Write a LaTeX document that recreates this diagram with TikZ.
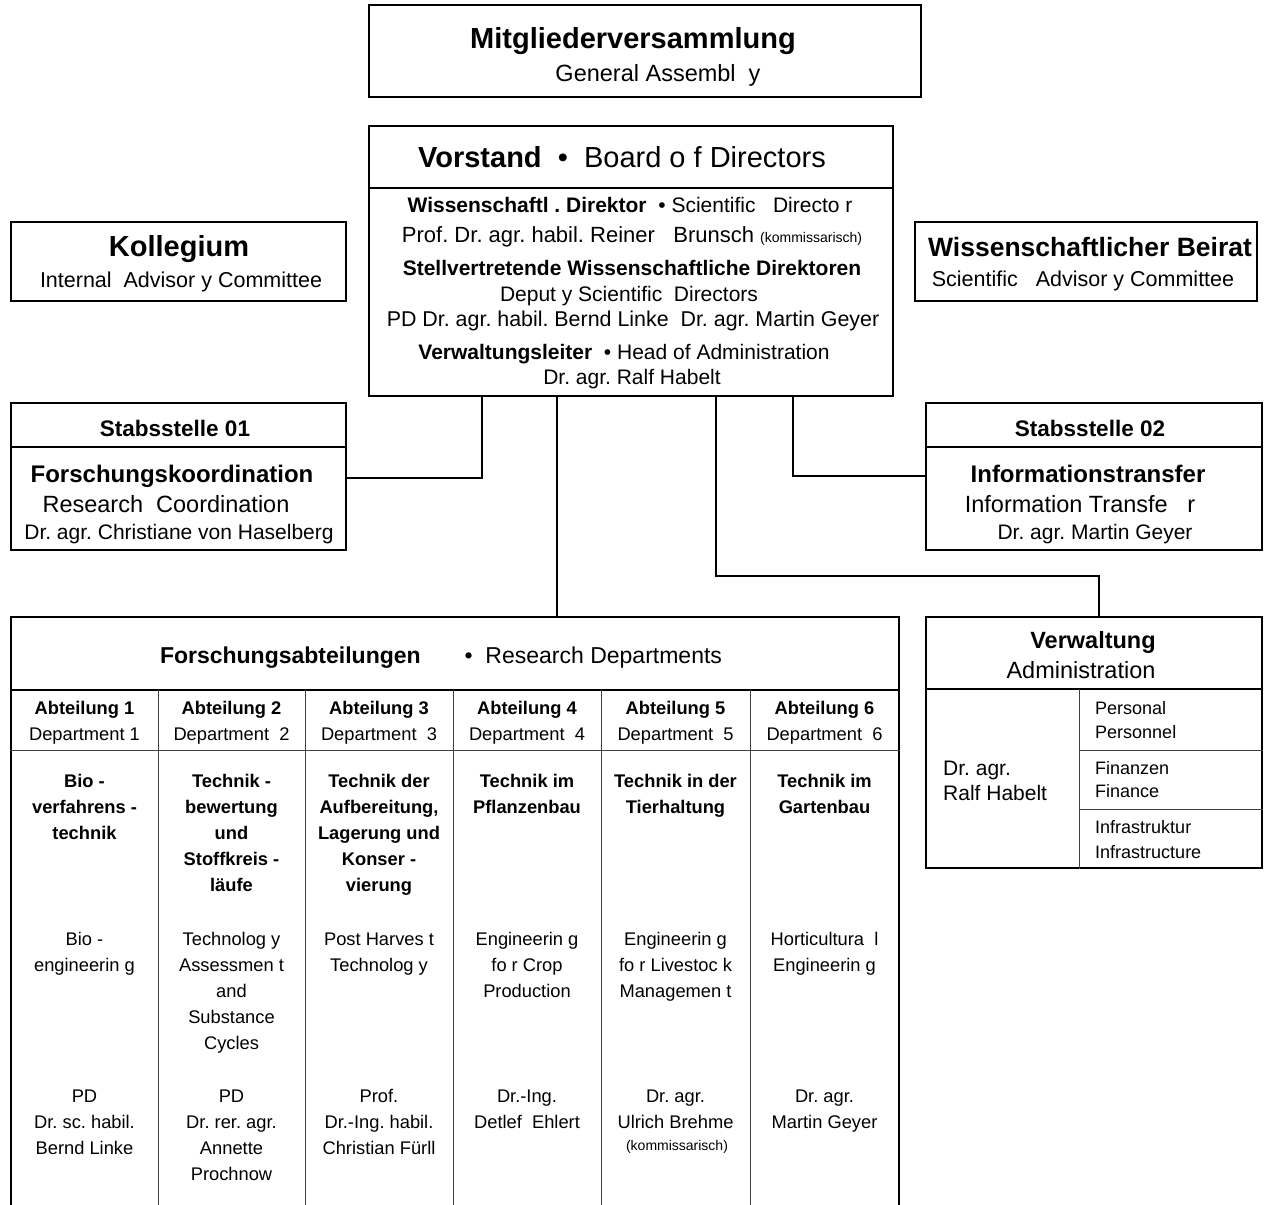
\documentclass[tikz,border=0pt]{standalone}
\usepackage{fontspec}
\setmainfont{Liberation Sans}
\newcommand\fsz[1]{\fontsize{#1}{#1}\selectfont}
\frenchspacing
\begin{document}
\begin{tikzpicture}[x=1pt,y=-1pt,
  box/.style={draw, line width=2pt, inner sep=0pt},
  divline/.style={line width=1.3pt},
  gridline/.style={line width=1pt, draw=black!75},
  conn/.style={line width=2.5pt},
  txt/.style={anchor=base, inner sep=0pt, align=center},
  ltxt/.style={anchor=base west, inner sep=0pt, align=left},
  coltitle/.style={txt, font=\fontsize{18.3}{26}\selectfont\bfseries},
  coltext/.style={txt, font=\fontsize{18.3}{26}\selectfont},
]
\useasboundingbox (0,0) rectangle (1265,1204);

% ---- boxes ----
\node[box, minimum width=552pt, minimum height=92pt] (mv) at (645,51) {};
\node[box, minimum width=524pt, minimum height=270pt] (vs) at (631,261) {};
\node[box, minimum width=335pt, minimum height=79pt] (kol) at (178.5,261.5) {};
\node[box, minimum width=342pt, minimum height=79pt] (wb) at (1086,261.5) {};
\node[box, minimum width=335pt, minimum height=147pt] (st1) at (178.5,476.5) {};
\node[box, minimum width=336pt, minimum height=147pt] (st2) at (1094,476.5) {};
\node[box, minimum width=888pt, minimum height=613pt] (tab) at (455,923.5) {};
\node[box, minimum width=336pt, minimum height=251pt] (vw) at (1094,742.5) {};

% ---- inner dividers ----
\coordinate (vsd) at (0,188);
\draw[divline] (vs.west |- vsd) -- (vs.east |- vsd);
\coordinate (s1d) at (0,447);
\draw[divline] (st1.west |- s1d) -- (st1.east |- s1d);
\draw[divline] (st2.west |- s1d) -- (st2.east |- s1d);
\coordinate (td1) at (0,690);
\coordinate (td2) at (0,750);
\draw[divline] (tab.west |- td1) -- (tab.east |- td1);
\draw[gridline] (tab.west |- td2) -- (tab.east |- td2);
\foreach \cx [count=\k] in {158,305,453,601,750}
  \draw[gridline] (\cx,690) -- (\cx,1230);
\coordinate (vwd) at (0,689);
\draw[divline] (vw.west |- vwd) -- (vw.east |- vwd);
\coordinate (vwv) at (1079,0);
\draw[gridline] (vwv |- vwd) -- (vwv |- vw.south);
\draw[gridline] (1079,750) -- (vw.east |- 0,750);
\draw[gridline] (1079,809) -- (vw.east |- 0,809);

% ---- connectors ----
\coordinate (j1) at (482,478);
\draw[conn] (st1.east |- j1) -- (j1) -- (j1 |- vs.south);
\coordinate (j2) at (793,476);
\draw[conn] (j2 |- vs.south) -- (j2) -- (st2.west |- j2);
\coordinate (j3) at (557,0);
\draw[conn] (j3 |- vs.south) -- (j3 |- tab.north);
\coordinate (j4) at (716,576);
\coordinate (j5) at (1099,576);
\draw[conn] (j4 |- vs.south) -- (j4) -- (j5) -- (j5 |- vw.north);

% ---- texts: top ----
\node[txt, font=\fsz{29}\bfseries] (mvt1) at (633,48.5) {Mitgliederversammlung};
\node[txt, font=\fsz{23.5}] (mvt2) at (658,82) {General Assembl\ \ y};

\node[txt, font=\fsz{29}] (vst) at (622,167.5) {\textbf{Vorstand}\ \ •\ \ Board o f Directors};
\node[txt, font=\fsz{21}] (vs1) at (630,212.5) {\textbf{Wissenschaftl . Direktor}\ \ •\ Scientific\ \ \ Directo r};
\node[txt, font=\fsz{22}] (vs2) at (632,242.5) {Prof. Dr. agr. habil. Reiner\ \ \ Brunsch {\fsz{14}(kommissarisch)}};
\node[txt, font=\fsz{21}\bfseries] (vs3) at (632,275.5) {Stellvertretende Wissenschaftliche Direktoren};
\node[txt, font=\fsz{21}] (vs4) at (629,301.5) {Deput y Scientific\ \ Directors};
\node[txt, font=\fsz{21.4}] (vs5) at (633,326.5) {PD Dr. agr. habil. Bernd Linke\ \ Dr. agr. Martin Geyer};
\node[txt, font=\fsz{21}] (vs6) at (624,359.5) {\textbf{Verwaltungsleiter}\ \ •\ Head of Administration};
\node[txt, font=\fsz{21}] (vs7) at (632,384.5) {Dr. agr. Ralf Habelt};

\node[txt, font=\fsz{29}\bfseries] (kolt1) at (179,256.5) {Kollegium};
\node[txt, font=\fsz{21.5}] (kolt2) at (181,287) {Internal\ \ Advisor y Committee};
\node[txt, font=\fsz{26.5}\bfseries] (wbt1) at (1090,256.5) {Wissenschaftlicher Beirat};
\node[txt, font=\fsz{21.5}] (wbt2) at (1083,286) {Scientific\ \ \ Advisor y\ Committee};

% ---- Stabsstellen ----
\node[txt, font=\fsz{22.5}\bfseries] (st1t1) at (175,436.5) {Stabsstelle 01};
\node[txt, font=\fsz{24}\bfseries] (st1t2) at (172,482.5) {Forschungskoordination};
\node[txt, font=\fsz{23.5}] (st1t3) at (166,512.5) {Research\ \ Coordination};
\node[txt, font=\fsz{21}] (st1t4) at (179,539.5) {Dr. agr. Christiane von Haselberg};

\node[txt, font=\fsz{22.5}\bfseries] (st2t1) at (1090,436.5) {Stabsstelle 02};
\node[txt, font=\fsz{24}\bfseries] (st2t2) at (1088,482.5) {Informationstransfer};
\node[txt, font=\fsz{23.5}] (st2t3) at (1080,512.5) {Information Transfe\ \ \ r};
\node[txt, font=\fsz{21}] (st2t4) at (1095,539.5) {Dr. agr. Martin Geyer};

% ---- research departments ----
\node[txt, font=\fsz{23}] (tabt) at (441,663) {\textbf{Forschungsabteilungen}\hspace{44pt}•\ \ Research Departments};

\node[txt, font=\fsz{18.3}\bfseries] (a1) at (84.5,714.5) {Abteilung 1};
\node[txt, font=\fsz{18.3}\bfseries] (a2) at (231.5,714.5) {Abteilung 2};
\node[txt, font=\fsz{18.3}\bfseries] (a3) at (379,714.5) {Abteilung 3};
\node[txt, font=\fsz{18.3}\bfseries] (a4) at (527,714.5) {Abteilung 4};
\node[txt, font=\fsz{18.3}\bfseries] (a5) at (675.5,714.5) {Abteilung 5};
\node[txt, font=\fsz{18.3}\bfseries] (a6) at (824.5,714.5) {Abteilung 6};
\node[txt, font=\fsz{18.3}] (d1) at (84.5,740.5) {Department 1};
\node[txt, font=\fsz{18.3}] (d2) at (231.5,740.5) {Department\ \ 2};
\node[txt, font=\fsz{18.3}] (d3) at (379,740.5) {Department\ \ 3};
\node[txt, font=\fsz{18.3}] (d4) at (527,740.5) {Department\ \ 4};
\node[txt, font=\fsz{18.3}] (d5) at (675.5,740.5) {Department\ \ 5};
\node[txt, font=\fsz{18.3}] (d6) at (824.5,740.5) {Department\ \ 6};

% multi-line nodes: base anchor = baseline of last line
\node[coltitle] (b1) at (84.5,839.5) {Bio -\\verfahrens -\\technik};
\node[coltitle] (b2) at (231.5,891.5) {Technik -\\bewertung\\und\\Stoffkreis -\\läufe};
\node[coltitle] (b3) at (379,891.5) {Technik der\\Aufbereitung,\\Lagerung und\\Konser -\\vierung};
\node[coltitle] (b4) at (527,813.5) {Technik im\\Pflanzenbau};
\node[coltitle] (b5) at (675.5,813.5) {Technik in der\\Tierhaltung};
\node[coltitle] (b6) at (824.5,813.5) {Technik im\\Gartenbau};

\node[coltext] (e1) at (84.5,971.5) {Bio -\\engineerin g};
\node[coltext] (e2) at (231.5,1049.5) {Technolog y\\Assessmen t\\and\\Substance\\Cycles};
\node[coltext] (e3) at (379,971.5) {Post\ Harves t\\Technolog y};
\node[coltext] (e4) at (527,997.5) {Engineerin g\\fo r\ Crop\\Production};
\node[coltext] (e5) at (675.5,997.5) {Engineerin g\\fo r\ Livestoc k\\Managemen t};
\node[coltext] (e6) at (824.5,971.5) {Horticultura\ \ l\\Engineerin g};

\node[coltext] (n1) at (84.5,1154.5) {PD\\Dr. sc. habil.\\Bernd Linke};
\node[coltext] (n2) at (231.5,1180.5) {PD\\Dr. rer. agr.\\Annette\\Prochnow};
\node[coltext] (n3) at (379,1154.5) {Prof.\\Dr.-Ing. habil.\\Christian Fürll};
\node[coltext] (n4) at (527,1128.5) {Dr.-Ing.\\Detlef\ \ Ehlert};
\node[coltext] (n5) at (675.5,1128.5) {Dr. agr.\\Ulrich Brehme};
\node[txt, font=\fsz{14}] (n5k) at (677,1150) {(kommissarisch)};
\node[coltext] (n6) at (824.5,1128.5) {Dr. agr.\\Martin Geyer};

% ---- Verwaltung ----
\node[txt, font=\fsz{23.5}\bfseries] (vwt1) at (1093,648.5) {Verwaltung};
\node[txt, font=\fsz{23.5}] (vwt2) at (1081,678.5) {Administration};
\node[ltxt, font=\fsz{21}] (vwl1) at (943,775.5) {Dr. agr.};
\node[ltxt, font=\fsz{21}] (vwl2) at (943,800.5) {Ralf Habelt};
\node[ltxt, font=\fsz{18}] (vwr1) at (1095,714.5) {Personal};
\node[ltxt, font=\fsz{18}] (vwr2) at (1095,738.5) {Personnel};
\node[ltxt, font=\fsz{18}] (vwr3) at (1095,774.5) {Finanzen};
\node[ltxt, font=\fsz{18}] (vwr4) at (1095,797.5) {Finance};
\node[ltxt, font=\fsz{18}] (vwr5) at (1095,833.5) {Infrastruktur};
\node[ltxt, font=\fsz{18}] (vwr6) at (1095,858.5) {Infrastructure};
\end{tikzpicture}
\end{document}
